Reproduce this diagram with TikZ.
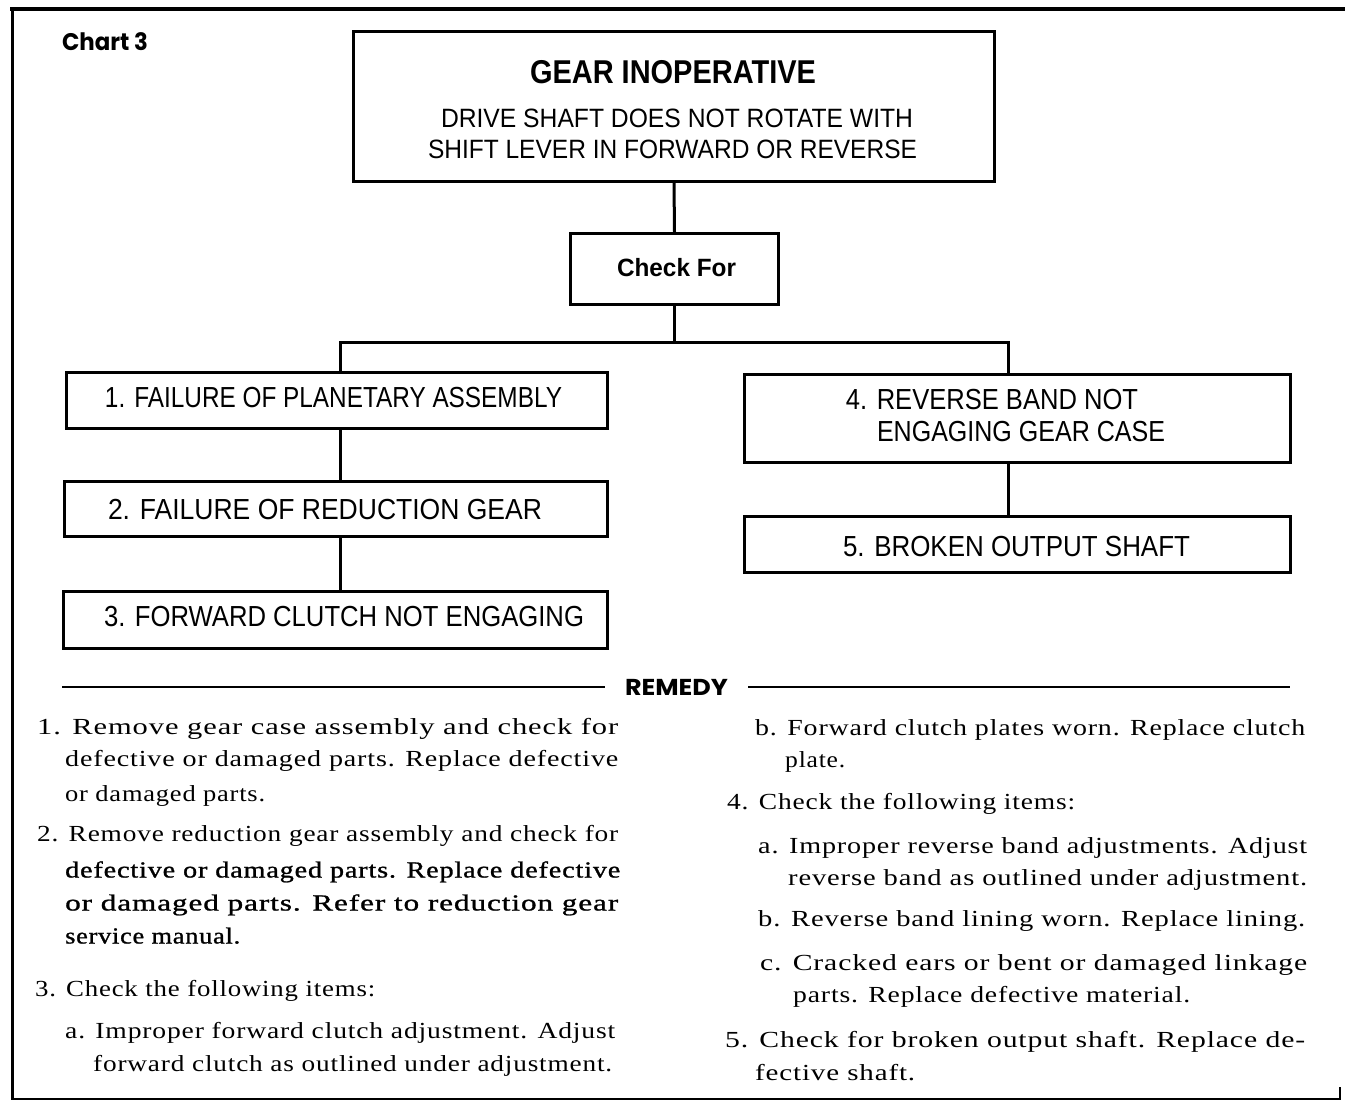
\documentclass[tikz,border=0pt]{standalone}
\usepackage{fontspec}
\setmainfont{Liberation Serif}
\newfontfamily\boxfont{Liberation Sans}
\newfontfamily\headfont{Poppins}
\newfontfamily\bodyfont[LetterSpace=3]{Liberation Serif}
\newfontfamily\bodyheavy[LetterSpace=3,FakeBold=1.0]{Liberation Serif}
\usetikzlibrary{shadows}
\newcommand\fitto[2]{\resizebox{#1}{\height}{#2}}
\begin{document}
\begin{tikzpicture}[x=1pt,y=-1pt,
  box/.style={draw=black, line width=2.6pt, fill=white, inner sep=0pt,
    drop shadow={shadow xshift=1.6pt, shadow yshift=-1.6pt, fill=black, opacity=1}},
  conn/.style={line width=3pt},
  frame/.style={line width=3pt},
  btxt/.style={inner sep=0pt, font=\boxfont\fontsize{29}{29}\selectfont},
  ttxt/.style={inner sep=0pt, font=\boxfont\fontsize{26.5}{26.5}\selectfont},
  htxt/.style={inner sep=0pt, font=\headfont\bfseries\fontsize{24}{24}\selectfont},
  body/.style={inner sep=0pt, anchor=west, text height=16pt, text depth=5pt,
    font=\bodyfont\fontsize{23}{23}\selectfont},
  bodyb/.style={body, font=\bodyheavy\fontsize{23}{23}\selectfont},
]
\useasboundingbox (0,0) rectangle (1345,1104);
\fill[white] (0,0) rectangle (1345,1104);

% outer frame
\draw[line width=4pt] (10,9) -- (1345,9);
\draw[frame] (12,7) -- (12,1100);
\draw[line width=2pt] (11,1099) -- (1340,1099);
\draw[line width=2pt] (1340,1087) -- (1340,1100);

% chart label
\node[htxt] (chart) at (105,42) {\fitto{86pt}{Chart 3}};

% boxes
\node[box, minimum width=641pt, minimum height=150pt] (top) at (674,106.5) {};
\node[box, minimum width=208pt, minimum height=71pt] (chk) at (674.5,269) {};
\node[box, minimum width=541pt, minimum height=56pt] (b1) at (337,400.5) {};
\node[box, minimum width=543pt, minimum height=55pt] (b2) at (336,509) {};
\node[box, minimum width=544pt, minimum height=57pt] (b3) at (335.5,620) {};
\node[box, minimum width=546pt, minimum height=88pt] (b4) at (1017.5,418.5) {};
\node[box, minimum width=546pt, minimum height=56pt] (b5) at (1017.5,544.5) {};

% box texts
\node[inner sep=0pt, font=\boxfont\bfseries\fontsize{33}{33}\selectfont] (t1) at (673,72) {\fitto{286pt}{GEAR INOPERATIVE}};
\node[ttxt] (t2) at (677,118) {\fitto{472pt}{DRIVE SHAFT DOES NOT ROTATE WITH}};
\node[ttxt] (t3) at (672.5,149) {\fitto{489pt}{SHIFT LEVER IN FORWARD OR REVERSE}};
\node[inner sep=0pt, font=\boxfont\bfseries\fontsize{25}{25}\selectfont] (tchk) at (676.5,268) {\fitto{119pt}{Check For}};
\node[btxt] (tb1) at (333.5,398) {\fitto{457pt}{1. FAILURE OF PLANETARY ASSEMBLY}};
\node[btxt] (tb2) at (325,510) {\fitto{434pt}{2. FAILURE OF REDUCTION GEAR}};
\node[btxt] (tb3) at (344,617) {\fitto{480pt}{3. FORWARD CLUTCH NOT ENGAGING}};
\node[btxt] (tb4a) at (992,400) {\fitto{292pt}{4. REVERSE BAND NOT}};
\node[btxt] (tb4b) at (1021,432) {\fitto{288pt}{ENGAGING GEAR CASE}};
\node[btxt] (tb5) at (1016.5,547) {\fitto{347pt}{5. BROKEN OUTPUT SHAFT}};

% connectors
\coordinate (jl) at (340,342);
\coordinate (jr) at (1008,342);
\draw[conn] (top.south) -- (chk.north);
\draw[conn] (chk.south) -- (chk.south |- jl);
\draw[conn] (b1.north -| jl) -- (jl) -- (jr) -- (b4.north -| jr);
\draw[conn] (b1.south -| jl) -- (b2.north -| jl);
\draw[conn] (b2.south -| jl) -- (b3.north -| jl);
\draw[conn] (b4.south -| jr) -- (b5.north -| jr);

% remedy heading
\node[htxt, font=\headfont\bfseries\fontsize{23}{23}\selectfont, inner xsep=20pt] (rem) at (676.5,687) {\fitto{103pt}{REMEDY}};
\coordinate (rl) at (62,687);
\coordinate (rr) at (1290,687);
\draw[line width=1.5pt] (rl) -- (rem.west);
\draw[line width=1.5pt] (rem.east) -- (rr);

% remedy text, left column
\node[body] (l1) at (37,729) {\fitto{581pt}{1. Remove gear case assembly and check for}};
\node[body] (l2) at (65,761) {\fitto{553pt}{defective or damaged parts. Replace defective}};
\node[body] (l3) at (65,796) {\fitto{200pt}{or damaged parts.}};
\node[body] (l4) at (37,836) {\fitto{581pt}{2. Remove reduction gear assembly and check for}};
\node[bodyb] (l5) at (65,872) {\fitto{555pt}{defective or damaged parts. Replace defective}};
\node[bodyb] (l6) at (65,905) {\fitto{553pt}{or damaged parts. Refer to reduction gear}};
\node[bodyb] (l7) at (65,938) {\fitto{175pt}{service manual.}};
\node[body] (l8) at (35,991) {\fitto{340pt}{3. Check the following items:}};
\node[body] (l9) at (65,1033) {\fitto{550pt}{a. Improper forward clutch adjustment. Adjust}};
\node[body] (l10) at (93,1066) {\fitto{519pt}{forward clutch as outlined under adjustment.}};

% remedy text, right column
\node[body] (r1) at (755,730) {\fitto{550pt}{b. Forward clutch plates worn. Replace clutch}};
\node[body] (r2) at (785,762) {\fitto{60pt}{plate.}};
\node[body] (r3) at (727,804) {\fitto{348pt}{4. Check the following items:}};
\node[body] (r4) at (758,848) {\fitto{549pt}{a. Improper reverse band adjustments. Adjust}};
\node[body] (r5) at (788,880) {\fitto{519pt}{reverse band as outlined under adjustment.}};
\node[body] (r6) at (758,921) {\fitto{547pt}{b. Reverse band lining worn. Replace lining.}};
\node[body] (r7) at (760,965) {\fitto{547pt}{c. Cracked ears or bent or damaged linkage}};
\node[body] (r8) at (793,997) {\fitto{397pt}{parts. Replace defective material.}};
\node[body] (r9) at (725,1042) {\fitto{580pt}{5. Check for broken output shaft. Replace de-}};
\node[body] (r10) at (755,1075) {\fitto{160pt}{fective shaft.}};
\end{tikzpicture}
\end{document}
